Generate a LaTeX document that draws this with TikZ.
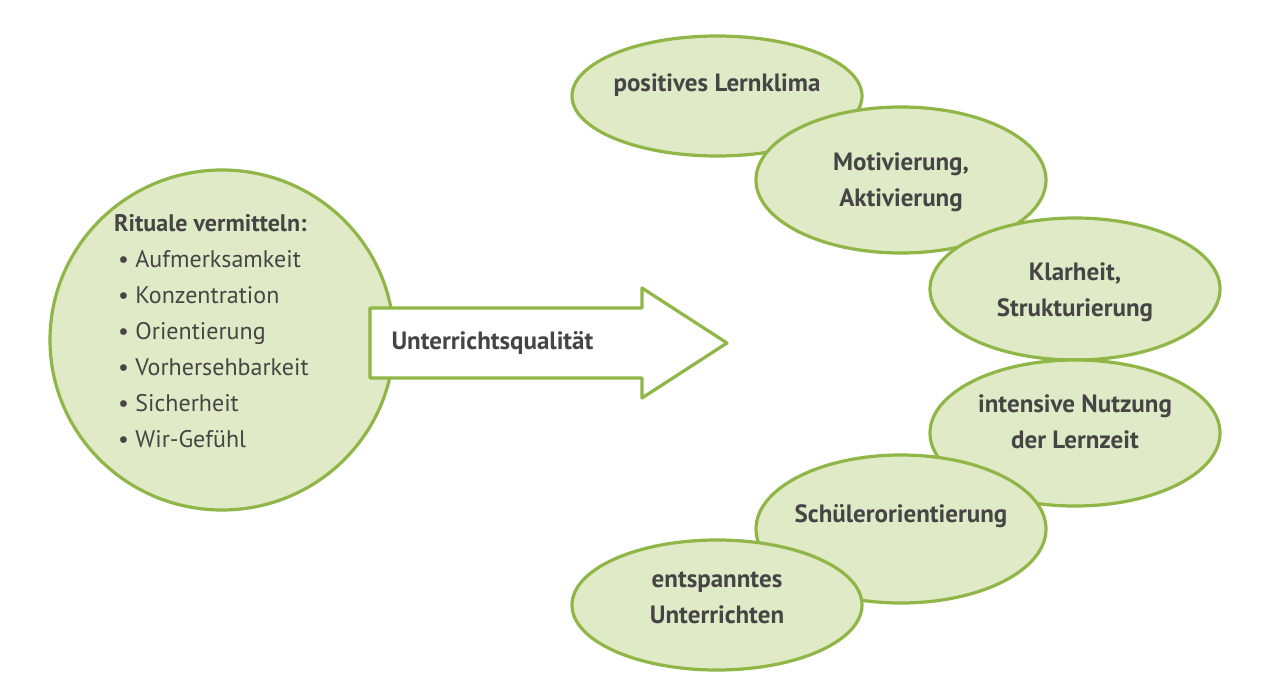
\documentclass[tikz,border=0pt]{standalone}
\usepackage{fontspec}
\setmainfont{PT Sans}
\begin{document}
\begin{tikzpicture}[x=1pt,y=-1pt]
\definecolor{gfill}{HTML}{E1EAC7}
\definecolor{gline}{HTML}{8FB646}
\definecolor{tgray}{HTML}{454545}
\tikzset{ell/.style={draw=gline,fill=gfill,line width=3.2pt},
  lbl/.style={font=\bfseries\fontsize{25}{36}\selectfont,text=tgray,align=center}}
\useasboundingbox (0,0) rectangle (1280,685);
\fill[ell] (222,340) ellipse [x radius=172,y radius=170];
\node[text=tgray,align=left,font=\fontsize{24}{36}\selectfont,anchor=north west,inner sep=0] (r) at (114,214)
 {\textbf{Rituale vermitteln:}\\
 \,\textbullet\ Aufmerksamkeit\\ \,\textbullet\ Konzentration\\ \,\textbullet\ Orientierung\\
 \,\textbullet\ Vorhersehbarkeit\\ \,\textbullet\ Sicherheit\\ \,\textbullet\ Wir-Gefühl};
\draw[gline,fill=white,line width=3.2pt,line join=round]
 (370,308) -- (642,308) -- (642,288) -- (727,343) -- (642,398) -- (642,378) -- (370,378) -- cycle;
\node[lbl,anchor=west] (u) at (388,343) {Unterrichtsqualität};
\fill[ell] (717,96) ellipse [x radius=145,y radius=60];
\node[lbl] (a) at (717,85) {positives Lernklima};
\fill[ell] (901,180) ellipse [x radius=145,y radius=73];
\node[lbl] (b) at (901,182) {Motivierung,\\Aktivierung};
\fill[ell] (1075,289) ellipse [x radius=145,y radius=71];
\node[lbl] (c) at (1075,292) {Klarheit,\\Strukturierung};
\fill[ell] (1075,433) ellipse [x radius=145,y radius=73];
\node[lbl] (d) at (1075,422) {intensive Nutzung\\der Lernzeit};
\fill[ell] (901,529) ellipse [x radius=145,y radius=74];
\node[lbl] (e) at (901,516) {Schülerorientierung};
\fill[ell] (717,605) ellipse [x radius=145,y radius=65];
\node[lbl] (f) at (717,598) {entspanntes\\Unterrichten};
\end{tikzpicture}
\end{document}
